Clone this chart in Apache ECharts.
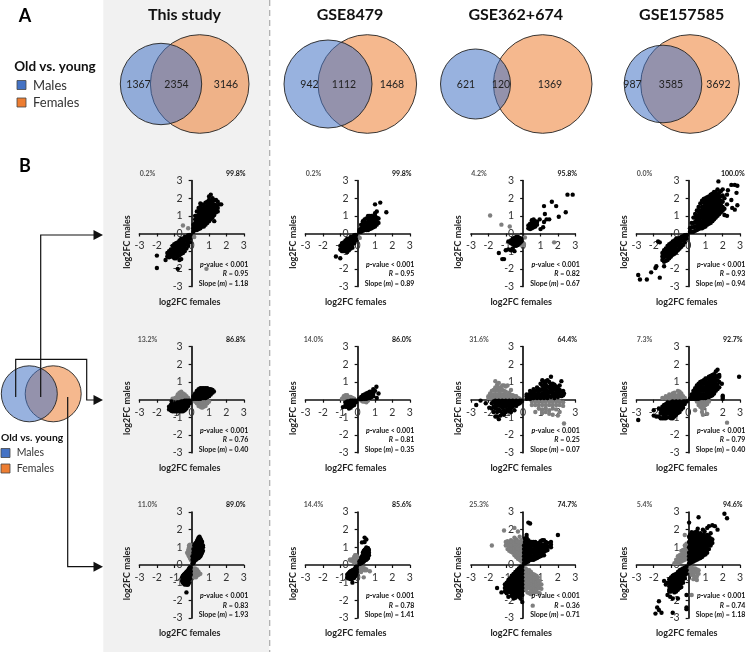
<!DOCTYPE html>
<html><head><meta charset="utf-8">
<style>html,body{margin:0;padding:0;background:#fff}#c{width:746px;height:652px}</style>
<script src="https://cdn.jsdelivr.net/npm/echarts@6/dist/echarts.min.js"></script>
</head><body><div id="c"></div>
<script>
// Each column below is [x, y1, y2, ...]: one x value and the y values read at that x.
const studies = ['This study','GSE8479','GSE362+674','GSE157585'];
const vennCounts = [[1367,2354,3146],[942,1112,1468],[621,120,1369],[987,3585,3692]];
const pctLeft = [['0.2%','0.2%','4.2%','0.0%'],['13.2%','14.0%','31.6%','7.3%'],['11.0%','14.4%','25.3%','5.4%']];
const pctRight = [['99.8%','99.8%','95.8%','100.0%'],['86.8%','86.0%','64.4%','92.7%'],['89.0%','85.6%','74.7%','94.6%']];
const rValues = [['0.95','0.95','0.82','0.93'],['0.76','0.81','0.25','0.79'],['0.83','0.78','0.36','0.74']];
const slopes = [['1.18','0.89','0.67','0.94'],['0.40','0.35','0.07','0.40'],['1.93','1.41','0.71','1.18']];

const b11=[[.1,.1,.3,.5],[.2,.2,.4,.6,.8,1],[.3,.2,.4,.6,.8,1,1.25],[.4,.25,.45,.65,.85,1.05,1.25,1.45],[.5,.3,.5,.7,.9,1.1,1.3,1.5,1.7],[.6,.4,.6,.8,1,1.2,1.4,1.65],[.7,.4,.6,.8,1,1.2,1.4,1.6],[.8,.5,.7,.9,1.1,1.3,1.5,1.75],[.9,.6,.8,1,1.2,1.4,1.6,1.8],[1,.7,.9,1.1,1.3,1.5,1.7,1.9,2.1],[1.1,.8,1,1.2,1.4,1.6,1.8,2.2],[1.2,.9,1.1,1.3,1.5,1.7,1.9,2],[1.3,.7,1.05,1.25,1.45,1.65,1.9],[1.4,1.2,1.4,1.6,1.9],[1.5,1.25,1.45,1.8],[1.6,1.65],[1.7,1.65],[-.1,-.1,-.3,-.5],[-.2,-.1,-.3,-.5,-.7],[-.3,-.2,-.4,-.6,-.85],[-.4,-.2,-.4,-.6,-.8,-1],[-.5,-.3,-.5,-.7,-.9,-1.1],[-.6,-.3,-.5,-.7,-.9,-1.15,-1.45],[-.7,-.4,-.6,-.8,-1,-1.25,-1.5],[-.8,-.5,-.7,-.9,-1.1,-1.3,-2],[-.9,-.55,-.75,-.95,-1.15,-1.4],[-1,-.6,-.8,-1,-1.2,-1.4],[-1.1,-.7,-.9,-1.1,-1.3],[-1.2,-.9,-1.1,-1.3],[-1.3,-1,-1.2,-1.35],[-1.4,-1.1,-1.3],[-1.5,-1.5],[-2,-1.25,-1.95]];
const g11=[[-.5,.45],[-.2,.3],[.15,-.2],[.85,-2]];
const b12=[[.1,.1,.2],[.2,.1,.3,.5],[.3,.15,.35,.55,.7],[.4,.2,.4,.6,.8],[.5,.2,.4,.6,.85],[.6,.2,.4,.6,.8,1],[.7,.25,.45,.65,.85,1],[.8,.3,.5,.7,.9,1],[.9,.35,.55,.75,.95],[1,.4,.6,.8,1,1.15,1.65],[1.1,.5,.7,.9,1.25],[1.2,.6,.85],[1.3,1.75],[1.65,1.2],[-.1,-.1,-.3,-.4],[-.2,-.1,-.3,-.55],[-.3,-.2,-.4,-.6,-.8],[-.4,-.2,-.4,-.6,-.85],[-.5,-.3,-.5,-.7,-.95],[-.6,-.3,-.5,-.7,-.85,-1.05],[-.7,-.4,-.6,-.8,-1],[-.8,-.5,-.7,-.9,-1],[-.9,-.55,-.75,-1],[-1,-.7,-.9,-1.4],[-1.25,-1.3]];
const g12=[[.12,-.25],[.05,-.2]];
const b13=[[.3,.3,.45],[.4,.25,.4,.55],[.5,.3,.45,.6,.75],[.6,.35,.5,.65,.8],[.7,.4,.55,.7],[.8,.5,.65],[.95,.8],[1,.25],[1.15,.35],[1.2,.65,1.55],[1.25,1.1],[1.35,.8],[1.5,.8],[1.65,1.8],[1.9,1.55],[2.05,.95],[2.45,1.2],[2.55,2.2],[2.85,2.2],[-.1,-.3,-.45],[-.2,-.25,-.4,-.55],[-.3,-.2,-.35,-.5,-.65],[-.4,-.2,-.35,-.5,-.7],[-.5,-.25,-.4,-.55,-.7,-1],[-.6,-.3,-.45,-.6,-.85],[-.7,-.4,-.55,-.95],[-.85,-.45,-.9],[-1,-.95],[-1.4,-1.1],[-1.2,-1.45],[-1.1,-1.45]];
const g13=[[-1.9,1.02],[-1.25,.5],[-.77,.4],[.1,-.23],[.05,-.6],[0,-.65],[1.78,-.5]];
const b14=[[.1,.1,.3],[.2,.1,.35,.6],[.3,.1,.35,.6,.9],[.4,.15,.4,.65,.9,1.1],[.5,.2,.4,.6,.8,1,1.3],[.6,.25,.45,.65,.85,1.05,1.25,1.5],[.7,.3,.5,.7,.9,1.1,1.3,1.7],[.8,.3,.5,.7,.9,1.1,1.3,1.5,1.85],[.9,.35,.55,.75,.95,1.15,1.35,1.55,1.75,1.95],[1,.4,.6,.8,1,1.2,1.4,1.6,1.8,2],[1.1,.5,.7,.9,1.1,1.3,1.5,1.7,1.9,2.05],[1.2,.55,.75,.95,1.15,1.35,1.55,1.75,1.95,2.1],[1.3,.6,.8,1,1.2,1.4,1.6,1.8,2,2.2],[1.4,.7,.9,1.1,1.3,1.5,1.7,1.9,2.1,2.25],[1.5,.8,1,1.2,1.4,1.6,1.8,2,2.2,2.35],[1.6,.9,1.1,1.3,1.5,1.7,1.9,2.1,2.35],[1.7,1,1.2,1.4,1.6,1.8,2,2.2,2.5],[1.75,2.95],[1.8,1.1,1.3,1.5,1.7,1.9,2.1,2.3],[1.9,1.2,1.4,1.6,1.85,2.1,2.4],[2,1.3,1.5,1.8,2.15,2.5],[2.1,1.05,1.4,2],[2.25,1,1.65,2.2],[2.3,2.45],[2.5,2.75,1.9],[2.55,1.45],[2.7,2.75,1.35],[2.85,2.7,1.6],[2.8,2.3],[-.1,-.1,-.3],[-.2,-.1,-.3,-.5],[-.3,-.15,-.4,-.65],[-.4,-.2,-.4,-.6,-.75],[-.5,-.25,-.45,-.65,-.85],[-.6,-.3,-.5,-.7,-.95],[-.7,-.3,-.5,-.7,-.9,-1.05],[-.8,-.4,-.6,-.8,-1,-1.15],[-.9,-.45,-.65,-.85,-1.05,-1.2],[-1,-.55,-.75,-.95,-1.15,-1.3],[-1.1,-.6,-.8,-1,-1.2,-1.4],[-1.2,-.7,-.9,-1.1,-1.3,-1.5],[-1.3,-.85,-1.05,-1.25,-1.55],[-1.4,-.95,-1.15,-1.35,-1.6,-1.85],[-1.5,-1.1,-1.3,-1.5],[-1.65,-.5,-2.5],[-1.75,-.45],[-1.85,-1.85],[-1.9,-1.95],[-2.15,-2.2],[-2.4,-2.6],[-2.8,-2.6],[-2.9,-2.35]];
const g14=[];
const b21=[[.1,.05,.2],[.2,.05,.2,.35],[.3,.05,.2,.35,.5],[.4,.05,.2,.35,.5,.6],[.5,.05,.2,.35,.5,.65],[.6,.1,.25,.4,.55,.65],[.7,.1,.25,.4,.55,.65],[.8,.1,.25,.4,.55,.65],[.9,.15,.3,.45,.65],[1,.2,.35,.5,.6],[1.1,.3,.45,.6],[1.2,.4,.55],[1.28,.47],[-.1,-.05,-.2],[-.2,-.05,-.2,-.35],[-.3,-.05,-.2,-.35,-.5],[-.4,-.05,-.2,-.35,-.5,-.6],[-.5,-.1,-.25,-.4,-.55,-.65],[-.6,-.1,-.25,-.4,-.55,-.65],[-.7,-.15,-.3,-.45,-.65],[-.8,-.15,-.3,-.45,-.65],[-.9,-.2,-.35,-.5,-.65],[-1,-.25,-.4,-.55,-.65],[-1.1,-.25,-.4,-.55,-.65],[-1.15,-.1],[-1.2,-.3,-.45,-.6],[-1.3,-.4,-.55]];
const g21=[[-.95,.1],[-.85,.15],[-.8,.1,.3],[-.7,.1,.25,.4],[-.6,.1,.25,.45],[-.5,.1,.25,.35],[-.4,.1,.2,.3],[-.3,.1,.2],[-.2,.05,.1],[-1.1,.05],[.2,-.1],[.3,-.1,-.2],[.4,-.1,-.25,-.35],[.5,-.1,-.25,-.4],[.6,-.1,-.25,-.45],[.7,-.1,-.25,-.4],[.8,-.1,-.2,-.35],[.9,-.1,-.2],[1,-.1]];
const b22=[[.1,.05],[.2,.03,.15],[.3,.05,.15,.25],[.4,.05,.2,.3],[.5,.05,.2,.35],[.6,.08,.25,.4],[.7,.1,.25,.45],[.8,.15,.3,.45],[.9,.2,.35,.45,.6],[1,.5],[1.08,.73],[1.1,.1],[1.2,.35],[-.1,-.05,-.15],[-.2,-.05,-.2,-.3],[-.3,-.05,-.2,-.35],[-.4,-.05,-.2,-.35,-.45],[-.5,-.1,-.25,-.4,-.5],[-.6,-.1,-.25,-.4],[-.7,-.15,-.3,-.4],[-.85,-.42]];
const g22=[[-.9,.05],[-.8,.1,.2],[-.7,.05,.2,.25],[-.6,.1,.2,.25],[-.5,.05,.15],[-.4,.05,.15],[-.3,.05,.1],[-.2,.05],[.2,-.05],[.3,-.1],[.4,-.1],[.5,-.1,-.15],[.6,-.05]];
const b23=[[.2,.05,.2,.3],[.3,.1,.25],[.4,.05,.2,.35,.5],[.5,.1,.25,.4],[.6,.1,.25,.45,.6],[.7,.15,.3,.5],[.8,.1,.3,.5,.7],[.9,.15,.35,.55,.6],[1,.1,.3,.55,.9],[1.1,.15,.35,.6,.8,1.1],[1.2,.1,.3,.5,.7,1],[1.3,.2,.4,.6,.85,1.05],[1.4,.1,.3,.5,.75,1.1],[1.5,.2,.45,.7,1],[1.6,.15,.4,.6,.85,1.3],[1.7,.25,.5,.75,.9],[1.8,.1,.35,.6,.85],[1.9,.25,.5,.75],[2,.15,.4,.65],[2.1,.3,.55,.8],[2.2,.2,.45,1.05],[2.3,.25,.5],[2.35,.35],[-.1,-.05,-.1],[-.2,-.05,-.2],[-.3,-.1,-.25],[-.4,-.05,-.2,-.35],[-.5,-.1,-.3,-.6],[-.6,-.05,-.2,-.4],[-.7,-.1,-.3,-.5,-.7],[-.8,-.05,-.2,-.45,-.65],[-.9,-.1,-.3,-.55],[-1,-.05,-.2,-.4,-.7],[-1.1,-.1,-.3,-.6,-.85],[-1.2,-.05,-.2,-.45,-.8],[-1.3,-.1,-.35,-.65,-.9],[-1.4,-.05,-.25,-.55,-1.1],[-1.5,-.1,-.35,-.7,-.95],[-1.6,-.05,-.25,-.5,-.95],[-1.7,-.1,-.4,-.7],[-1.8,-.2,-.5],[-1.95,-.45],[-2.15,-.2],[-2.45,-.05],[-2.7,-.3]];
const g23=[[-2,.1,.2],[-1.9,.1,.35],[-1.8,.1,.25,.5],[-1.7,.1,.3,.55],[-1.6,.1,.3,.5,.7,1.05],[-1.5,.1,.3,.55,.85],[-1.4,.1,.3,.5,.7,.95],[-1.3,.1,.3,.5,.7],[-1.2,.1,.3,.55,.8],[-1.1,.1,.3,.5,.8],[-1,.1,.25,.45,.75],[-.9,.1,.25,.8],[-.8,.1,.25,.4],[-.7,.1,.25,.55],[-.6,.1,.25],[-.5,.1,.2],[-.4,.1,.2],[-.3,.1],[-.2,.05],[.5,-.1,-.3],[.7,-.1,-.3,-.7],[.9,-.1,-.3,-.5],[1.1,-.1,-.3,-.55,-.75],[1.3,-.1,-.3,-.5,-.7],[1.5,-.1,-.3,-.6,-.8],[1.7,-.1,-.3,-.5,-.85],[1.9,-.1,-.3,-.55],[2,-.9],[2.1,-.1,-.3,-.7],[2.3,-.15,-.35],[2.35,-1.35]];
const b24=[[.1,.05],[.2,.05,.2,.3],[.3,.05,.2,.35,.5],[.4,.05,.2,.35,.5,.65],[.5,.05,.25,.45,.65,.8],[.6,.05,.25,.45,.65,.9],[.7,.1,.3,.5,.7,.85,1],[.8,.1,.3,.5,.7,.9,1.05],[.9,.1,.3,.5,.7,.9,1.1],[1,.1,.3,.5,.7,.9,1.05,1.2],[1.1,.15,.35,.55,.75,.95,1.2],[1.2,.15,.35,.55,.75,.95,1.15,1.3],[1.3,.2,.4,.6,.8,1,1.2,1.35],[1.4,.25,.45,.65,.85,1.05,1.25,1.4],[1.5,.35,.55,.75,.95,1.15,1.45],[1.6,.5,.7,.9,1.1,1.3,1.6],[1.7,.6,.85,1.1,1.35,1.7],[1.8,.7,1,1.3,1.4],[1.95,.9],[2,.05,.15,.22],[2.95,1.3],[-.1,-.1],[-.2,-.1,-.25],[-.3,-.1,-.3,-.45],[-.4,-.15,-.35,-.55],[-.5,-.1,-.3,-.5,-.7],[-.6,-.15,-.35,-.55,-.75],[-.7,-.1,-.3,-.5,-.7,-.85],[-.8,-.15,-.35,-.55,-.75,-.95],[-.9,-.1,-.3,-.5,-.7,-.9,-1.05],[-1,-.15,-.35,-.55,-.75,-.95,-1.05],[-1.1,-.2,-.4,-.6,-.8,-1],[-1.2,-.15,-.35,-.55,-.75,-1],[-1.3,-.25,-.45,-.65,-.85,-1.05],[-1.4,-.3,-.5,-.7,-.9,-1.05],[-1.5,-.4,-.6,-.8,-1.05],[-1.6,-.55,-.75,-1.05],[-1.7,-.5,-.95],[-1.85,-.95],[-2,-.6,-.9],[-2.9,-1.15]];
const g24=[[-1.5,.1],[-1.3,.1,.2],[-1.1,.1,.2,.3],[-.9,.1,.2,.35],[-.8,.1,.25,.4],[-.6,.1,.25,.5],[-.5,.1,.3,.45],[-.4,.1,.25,.35],[-.3,.1,.2],[-.2,.1],[.4,-.6],[.5,-.1],[.6,-.1,-.3],[.7,-.1,-.25,-.4],[.8,-.1,-.3,-.5,-.7],[.85,-.85],[.9,-.1,-.25,-.45],[1,-.1,-.3],[1.1,-.1,-.25,-.8],[1.2,-.1],[2.25,-1.3]];
const b31=[[.05,.1,.3,.5],[.1,.1,.3,.5,.7,.9],[.15,.2,.4,.6,.8,1.1],[.2,.3,.5,.7,.9,1.2],[.25,.3,.5,.7,.9,1.1,1.25],[.3,.35,.55,.75,.95,1.15,1.35],[.35,.4,.6,.8,1,1.2,1.45],[.4,.4,.6,.8,1,1.2,1.4,1.55],[.45,.45,.65,.85,1.05,1.25,1.6],[.5,.5,.7,.9,1.1,1.3,1.5],[.55,.6,.8,1,1.2,1.4],[.6,.7,.9,1.1,1.3],[.65,.8,1,1.1],[-.05,-.15,-.35,-.55],[-.1,-.15,-.35,-.55,-.75],[-.15,-.2,-.4,-.6,-.8,-1],[-.2,-.3,-.5,-.7,-.9,-1.1],[-.25,-.35,-.55,-.75,-.95,-1.1],[-.3,-.4,-.6,-.8,-1,-1.1,-1.55],[-.35,-.45,-.65,-.85,-1.05],[-.4,-.5,-.7,-.9,-1.1],[-.45,-.55,-.75,-.95,-1.05],[-.5,-.6,-.8,-1],[-.55,-.7,-.9]];
const g31=[[-.26,.7],[-.2,.6,.85],[-.15,.5,.8,1,1.1],[-.1,.4,.6,.8,1,1.15],[-.05,.3,.5,.7,.9,1.1],[0,.25,.45,.65,.85,1.05],[.05,.7,.9],[.1,-.2,-.4,-.6],[.15,-.25,-.5,-.7],[.2,-.2,-.4,-.6],[.25,-.3,-.5,-.7],[.3,-.25,-.45,-.6],[.35,-.35,-.55],[.4,-.4,-.55],[.5,-.5]];
const b32=[[.1,.05,.2],[.15,.1,.25],[.2,.1,.25,.4],[.25,.15,.3,.5,1.28],[.3,.15,.3,.5,.7],[.35,.2,.4,.6,.8],[.4,.25,.45,.65,.85,1.3,1.55],[.45,.3,.5,.7,.9],[.5,.3,.5,.7,.9,1,1.45],[.55,.35,.55,.75,.95],[.6,.4,.6,.8,.95],[.65,.55,.7,.85],[-.05,-.1,-.25,-.4],[-.1,-.1,-.25,-.4,-.55],[-.15,-.2,-.35,-.5,-.65],[-.2,-.25,-.4,-.55,-.7],[-.25,-.3,-.45,-.6,-.75],[-.3,-.3,-.45,-.6,-.75,-1],[-.35,-.35,-.5,-.65,-.8],[-.4,-.35,-.5,-.65,-.8],[-.45,-.4,-.55,-.7],[-.5,-.45,-.6,-.75],[-.55,-.5,-.65,-.75],[-.6,-.55,-.7]];
const g32=[[-.45,.3],[-.4,.25,.3],[-.3,.3,.25],[-.25,.2,.35],[-.2,.15,.3,.45],[-.15,.15,.3,.45,.55],[-.1,.1,.25,.4,.55],[-.05,.1,.2,.35,.5],[0,.15,.3,.45],[.05,.15,.3],[.1,-.2,-.35],[.2,-.15,-.3,-.4],[.3,-.15,-.25],[.35,-.7],[.4,-.2,-.3],[.5,-.25,-.3],[.7,-.35]];
const b33=[[.05,.1,.3,.5,.7,.9,1.1],[.1,.1,.3,.5,.7,.9,1.1,1.3,1.5],[.2,.15,.35,.55,.75,.95,1.15,1.35,1.55,1.7],[.3,.2,.4,.6,.8,1,1.2,1.4,2.4],[.4,.3,.5,.7,.9,1.1,1.3,2.35],[.5,.3,.5,.7,.9,1.1,1.3],[.6,.3,.5,.7,.9,1.1,1.3],[.7,.35,.55,.75,.95,1.15,1.3],[.8,.4,.6,.8,1,1.2],[.9,.45,.65,.85,1.05,1.25],[1,.5,.7,.9,1.1,1.35],[1.1,.55,.75,.95,1.15,1.4],[1.2,.55,.75,.95,1.15,1.4],[1.3,.8,1,1.2,1.3],[1.4,.85,1.05,1.25],[1.6,1,1.15,1.3],[2,1.7],[-.05,-.1,-.3,-.5,-.7,-.9,-1.1,-1.3,-1.5,-1.7,-2.1],[-.15,-.1,-.3,-.5,-.7,-.9,-1.1,-1.3,-1.5,-1.7,-1.9],[-.25,-.2,-.4,-.6,-.8,-1,-1.2,-1.4,-1.6,-1.8],[-.35,-.3,-.5,-.7,-.9,-1.1,-1.3,-1.5,-1.7],[-.45,-.4,-.6,-.8,-1,-1.2,-1.4,-1.6,-1.85],[-.55,-.5,-.7,-.9,-1.1,-1.3,-1.5,-1.7,-1.9],[-.65,-.6,-.8,-1,-1.2,-1.4,-1.6,-1.75],[-.75,-.75,-.95,-1.15,-1.35,-1.55],[-.85,-.85,-1.05,-1.25,-1.45,-1.8],[-.95,-1,-1.2,-1.4,-1.6],[-1.05,-1.1,-1.3,-1.5],[-1.25,-1.55],[-1.5,-1.3]];
const g33=[[-1.8,1.1],[-1.1,1.95],[-1,1.1,1.3],[-.9,.9,1.15,1.35],[-.8,.8,1,1.25],[-.7,.75,.95,1.15,1.4],[-.6,.7,.9,1.1,1.3],[-.5,.55,.75,.95,1.15,1.35,1.55,2.1],[-.4,.45,.65,.85,1.05,1.25,1.45],[-.3,.35,.55,.75,.95,1.15,1.35,1.9],[-.2,.3,.5,.7,.9,1.1,1.3,1.6],[-.1,.2,.4,.6,.8,1,1.2,1.4],[0,.2,.5,.8,1.1,1.4],[.05,-.2,-.5,-.8,-1.1,-1.4],[.15,-.2,-.4,-.6,-.8,-1,-1.2,-1.4],[.25,-.3,-.5,-.7,-.9,-1.1,-1.3,-1.55],[.35,-.3,-.5,-.7,-.9,-1.1,-1.3,-1.6],[.45,-.4,-.6,-.8,-1,-1.2,-1.4,-1.65],[.55,-.5,-.7,-.9,-1.1,-1.3,-1.5,-2.3],[.65,-.55,-.75,-.95,-1.15,-1.35,-1.55],[.75,-.6,-.8,-1,-1.2,-1.4],[.85,-.7,-.9,-1.1,-1.3,-1.55],[.95,-.9,-1.1,-1.3,-1.6],[1.05,-1.1,-1.35]];
const b34=[[.05,.1,.3,.5,.7,1,1.3,1.6,2.4],[.1,.1,.3,.5,.7,.9,1.1,1.3,1.5,1.7],[.2,.15,.35,.55,.75,.95,1.15,1.35,1.55,1.75,1.85],[.3,.2,.4,.6,.8,1,1.2,1.4,1.6,1.8],[.4,.25,.45,.65,.85,1.05,1.25,1.45,1.65,1.85],[.5,.3,.5,.7,.9,1.1,1.3,1.5,1.7,1.9],[.55,2.05],[.6,.35,.55,.75,.95,1.15,1.35,1.55,1.75,2.7],[.7,.4,.6,.8,1,1.2,1.4,1.6,1.8],[.8,.45,.65,.85,1.05,1.25,1.45,1.65],[.85,2],[.9,.55,.75,.95,1.15,1.35,1.55,1.75],[.95,1.9],[1,.6,.8,1,1.2,1.4,1.6],[1.1,.7,.9,1.1,1.3,1.5,1.7,2.1],[1.2,.9,1.1,1.3,1.5,1.6,2.2],[1.3,1.1,1.3,1.5,1.8],[1.4,1.25,1.45,2.25],[1.55,2.2],[1.7,2],[2.1,2.9],[2.25,2.65],[-.1,-.1,-.3,-.5,-1.7,-2.4,-2.5],[-.2,-.15,-.35,-.55,-.75],[-.3,-.2,-.4,-.6,-.8,-1],[-.4,-.25,-.45,-.65,-.85,-1.05,-1.25],[-.5,-.3,-.5,-.7,-.9,-1.1,-1.3],[-.6,-.4,-.6,-.8,-1,-1.2,-1.4,-1.9],[-.7,-.5,-.7,-.9,-1.1,-1.3,-1.5],[-.8,-.55,-.75,-.95,-1.15,-1.35,-1.55],[-.9,-.6,-.8,-1,-1.2,-1.4,-1.9,-2.7],[-1,-.7,-.9,-1.1,-1.3,-1.5],[-1.05,-1.8],[-1.1,-.8,-1,-1.2,-1.4,-1.5],[-1.2,-1,-1.7],[-1.3,-1.1],[-1.4,-.9],[-1.55,-2.7],[-1.7,-2.05,-2.55],[-1.8,-2.4],[-1.9,-2.75]];
const g34=[[-.8,.1],[-.7,.15,.3],[-.6,.1,.3,.5],[-.5,.15,.35,.55],[-.4,.2,.4,.6,.8],[-.3,.25,.45,.65,.85],[-.2,.3,.5,.7,.9,1.1,1.7],[-.1,.35,.55,.75,.95,1.2],[0,.5,.8,1],[.1,-.15,-.35],[.2,-.15,-.35,-.55,-1.7],[.3,-.2,-.4,-.6,-.8],[.4,-.2,-.4,-.7],[.5,-.25,-.45,-.65,-.85],[.6,-.3,-.5]];
const blackPoints=[[b11,b12,b13,b14],[b21,b22,b23,b24],[b31,b32,b33,b34]];
const grayPoints=[[g11,g12,g13,g14],[g21,g22,g23,g24],[g31,g32,g33,g34]];

// Layout
const colL=[139.5,305.5,471,636.5], colW=104.3, rowT=[180.5,346.7,512], rowH=106;
const titleX=[184.5,350,515.7,681.7];
const vennCircles=[[161,84,40.7,199.7,84,49.3],[328,84,44,367.3,84,49.3],[475.5,84,35,542.7,84,49.3],[663,84,38.8,690,84,49.3]];
const vennLabelX=[[138.5,176.5,226],[309.5,344,392],[466,501,550],[632.5,671,718.5]];
const FONT='Lato, "Open Sans", sans-serif';
const BLUE='rgba(68,114,196,.55)', ORANGE='rgba(237,125,49,.55)';
const expand=c=>c.flatMap(([x,...ys])=>ys.map(y=>[x,y]));

const grid=[],xAxis=[],yAxis=[],series=[],graphic=[];
const text=(x,y,t,o={},rotation)=>graphic.push({type:'text',z:100,x,y,rotation:rotation||0,style:Object.assign({text:t,fontFamily:FONT,fontSize:8,fill:'#222',align:'center',verticalAlign:'middle'},o)});
const line=(pts)=>graphic.push({type:'polyline',z:50,shape:{points:pts},style:{stroke:'#111',lineWidth:1.2,fill:null}});
const arrow=(tipX,y)=>graphic.push({type:'polygon',z:50,shape:{points:[[tipX-9.5,y-5],[tipX,y],[tipX-9.5,y+5]]},style:{fill:'#111'}});
const circle=(cx,cy,r,fill)=>graphic.push({type:'circle',z:5,shape:{cx,cy,r},style:{fill,stroke:'#222',lineWidth:.9}});

graphic.push({type:'rect',z:-10,shape:{x:103.3,y:0,width:166,height:652},style:{fill:'#f1f1f1'}});
graphic.push({type:'line',z:-9,shape:{x1:269.7,y1:0,x2:269.7,y2:652},style:{stroke:'#aaa',lineWidth:1.2,lineDash:[6,4]}});
text(25,16,'A',{fontSize:18,fontWeight:'bold',fill:'#000'});
text(25,166,'B',{fontSize:18,fontWeight:'bold',fill:'#000'});
text(55,66.5,'Old vs. young',{fontSize:13.5,fontWeight:'bold',fill:'#111'});
text(1,437.7,'Old vs. young',{fontSize:10.3,fontWeight:'bold',fill:'#111',align:'left'});
[[17,80.5,33,85.5,'#4472C4','Males',13],[17,98,33,103,'#ED7D31','Females',13],[1,448.5,16.7,453,'#4472C4','Males',10.5],[1,464,16.7,468.7,'#ED7D31','Females',10.5]].forEach(([x,y,tx,ty,c,t,fs])=>{
  graphic.push({type:'rect',z:20,shape:{x,y,width:9,height:9},style:{fill:c,stroke:'#444',lineWidth:.8}});
  text(tx,ty,t,{fontSize:fs,align:'left',fill:'#333'});
});
studies.forEach((s,c)=>{
  text(titleX[c],15,s,{fontSize:16,fontWeight:'bold',fill:'#111'});
  const v=vennCircles[c];
  circle(v[3],v[4],v[5],ORANGE); circle(v[0],v[1],v[2],BLUE);
  vennCounts[c].forEach((n,i)=>text(vennLabelX[c][i],84.5,String(n),{fontSize:10.5,fill:'#222'}));
});
circle(53.2,393.8,28,ORANGE); circle(29.3,393.8,28,BLUE);
line([[40.7,397],[40.7,235],[96,235]]); arrow(103,235);
line([[15.7,397],[15.7,359.3],[86.7,359.3],[86.7,400],[96,400]]); arrow(103,400);
line([[67.7,397],[67.7,566.7],[96,566.7]]); arrow(103,566.7);

const axisOf=(i,offset,margin)=>({type:'value',min:-3,max:3,interval:1,gridIndex:i,offset,splitLine:{show:false},
  axisLine:{show:true,onZero:false,lineStyle:{color:'#111',width:1.7}},
  axisTick:{show:true,length:3,lineStyle:{color:'#111',width:1.2}},
  axisLabel:{show:true,margin,fontFamily:FONT,fontSize:10.5,color:'#333',showMinLabel:true,showMaxLabel:true,hideOverlap:false}});

let idx=0;
rowT.forEach((top,r)=>colL.forEach((left,c)=>{
  grid.push({left,top,width:colW,height:rowH});
  xAxis.push(axisOf(idx,-rowH/2,7));
  yAxis.push(axisOf(idx,-colW/2,9));
  const sc=(data,color)=>series.push({type:'scatter',xAxisIndex:idx,yAxisIndex:idx,data,symbol:'circle',symbolSize:4.4,itemStyle:{color,opacity:1},silent:true,animation:false});
  sc(expand(grayPoints[r][c]),'#7f7f7f');
  sc(expand(blackPoints[r][c]),'#000');
  const lbl=top-6.8;
  text(left+8,lbl,pctLeft[r][c],{fontSize:7,fill:'#555',fontWeight:'bold'});
  text(left+colW-8,lbl,pctRight[r][c],{fontSize:7,fill:'#111',fontWeight:'bold'});
  text(left+colW/2-2,top+121.3,'log2FC females',{fontSize:9,fontWeight:'bold',fill:'#222'});
  text(left-12.6,top+61.5,'log2FC males',{fontSize:9,fontWeight:'bold',fill:'#222'},Math.PI/2);
  const rx=left+colW+4.5, rich={i:{fontStyle:'italic',fontWeight:'bold',fontSize:7,fontFamily:FONT,fill:'#111'},b:{fontWeight:'bold',fontSize:7,fontFamily:FONT,fill:'#111'}};
  const st=(y,t)=>text(rx,top+y,t,{align:'right',rich});
  st(84,'{i|p}{b|-value < 0.001}');
  st(93.4,'{i|R}{b| = '+rValues[r][c]+'}');
  st(103,'{b|Slope (}{i|m}{b|) = '+slopes[r][c]+'}');
  idx++;
}));

echarts.init(document.getElementById('c'),null,{renderer:'canvas'}).setOption({
  animation:false,backgroundColor:'#fff',grid,xAxis,yAxis,series,graphic
});
</script></body></html>
